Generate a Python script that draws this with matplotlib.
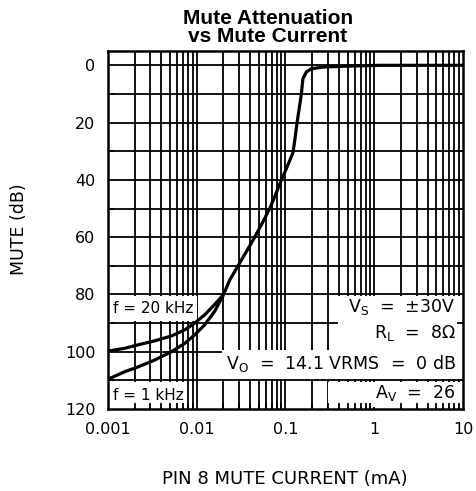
import matplotlib
matplotlib.use("Agg")
import matplotlib.pyplot as plt
import numpy as np

# 1 kHz curve (main curve, continues up to 0 dB)
cur_1k = [0.001, 0.00154, 0.00218, 0.00336, 0.00518, 0.00731, 0.00948, 0.0123,
          0.0159, 0.0198, 0.0235, 0.0292, 0.0363, 0.045, 0.0549, 0.0664, 0.0776,
          0.0899, 0.1024, 0.1215, 0.127, 0.135, 0.1445, 0.151, 0.157, 0.172,
          0.196, 0.265, 0.485, 1.15, 10.0]
att_1k = [109.6, 107, 105.3, 102.9, 100, 97.1, 94.1, 90.6,
          85.9, 80.4, 75, 70, 65, 60, 55, 50, 45,
          40, 36, 30.5, 26.3, 20, 14, 10, 4.7, 2.3,
          1.2, 0.6, 0.3, 0.0, 0.0]

# 20 kHz curve (joins the 1 kHz curve near 0.02 mA)
cur_20k = [0.001, 0.00154, 0.00218, 0.00336, 0.00518, 0.00731, 0.00948, 0.0123,
           0.0159, 0.0198]
att_20k = [99.8, 98.8, 97.6, 96.2, 94.5, 92.4, 90, 87.1, 83.5, 80.2]

yticks = [0, 20, 40, 60, 80, 100, 120]
xticks = [0.001, 0.01, 0.1, 1, 10]
xticklabels = ["0.001", "0.01", "0.1", "1", "10"]

fig = plt.figure(figsize=(4.77, 4.91), dpi=100)
ax = fig.add_axes([108/477, 1 - 409/491, 355/477, 358/491])

ax.set_xscale("log")
ax.set_xlim(0.001, 10)
ax.set_ylim(120, -5)

# grid drawn by hand so white label boxes can hide parts of it
for dec in [0.001, 0.01, 0.1, 1]:
    for m in range(1, 10):
        ax.axvline(dec * m, color="black", lw=1.3, zorder=0.8)
for yv in range(0, 120, 10):
    ax.axhline(yv, color="black", lw=1.3, zorder=0.8)

def blank(x0, x1, y0, y1):
    ax.fill_between([x0, x1], y0, y1, color="white", lw=0, zorder=1)

blank(0.001, 0.0101, 80.6, 89.4)     # f = 20 kHz
blank(0.001, 0.0072, 110.6, 119.2)   # f = 1 kHz
blank(0.39, 10, 80.6, 99.6)          # Vs / RL
blank(0.0195, 10, 99.4, 109.6)       # Vo
blank(0.3, 10, 110.4, 119.2)         # Av

ax.plot(cur_1k, att_1k, color="black", lw=2.3, zorder=3,
        solid_joinstyle="round", solid_capstyle="butt")
ax.plot(cur_20k, att_20k, color="black", lw=2.3, zorder=3,
        solid_joinstyle="round", solid_capstyle="butt")

tf = dict(fontsize=11, family="DejaVu Sans", zorder=4)
ax.text(0.00115, 84.8, "f = 20 kHz", va="center", ha="left", **tf)
ax.text(0.00115, 115.2, "f = 1 kHz", va="center", ha="left", **tf)
ax.text(8.3, 84.5, r"V$_\mathrm{S}$  =  ±30V", va="center", ha="right", fontsize=12.5, zorder=4)
ax.text(8.3, 93.5, r"R$_\mathrm{L}$  =  8Ω", va="center", ha="right", fontsize=12.5, zorder=4)
ax.text(8.3, 104.0, r"V$_\mathrm{O}$  =  14.1 VRMS  =  0 dB", va="center", ha="right", fontsize=12.5, zorder=4)
ax.text(8.3, 114.5, r"A$_\mathrm{V}$  =  26", va="center", ha="right", fontsize=12.5, zorder=4)

ax.set_yticks(yticks)
ax.set_yticks(np.arange(10, 120, 20), minor=True)
ax.set_xticks(xticks)
ax.set_xticklabels(xticklabels)
ax.tick_params(axis="both", which="major", labelsize=11.5, length=0, pad=9)
ax.tick_params(axis="x", which="minor", bottom=True, direction="in",
               length=4, width=1.3, labelbottom=False)
ax.tick_params(axis="y", which="both", right=True, direction="in")
ax.tick_params(axis="y", which="minor", length=4, width=1.3)
for s in ax.spines.values():
    s.set_linewidth(1.8)
    s.set_zorder(5)

fig.text(19/477, 1 - 229/491, "MUTE (dB)", rotation=90, ha="center", va="center", fontsize=12.5)
fig.text(285/477, 1 - 479/491, "PIN 8 MUTE CURRENT (mA)", ha="center", va="center", fontsize=13)
fig.text(268/477, 1 - 18.5/491, "Mute Attenuation", ha="center", va="center",
         fontsize=15, fontweight="bold", family="Liberation Sans")
fig.text(268/477, 1 - 37/491, "vs Mute Current", ha="center", va="center",
         fontsize=15, fontweight="bold", family="Liberation Sans")

fig.savefig("out.png", dpi=100)
